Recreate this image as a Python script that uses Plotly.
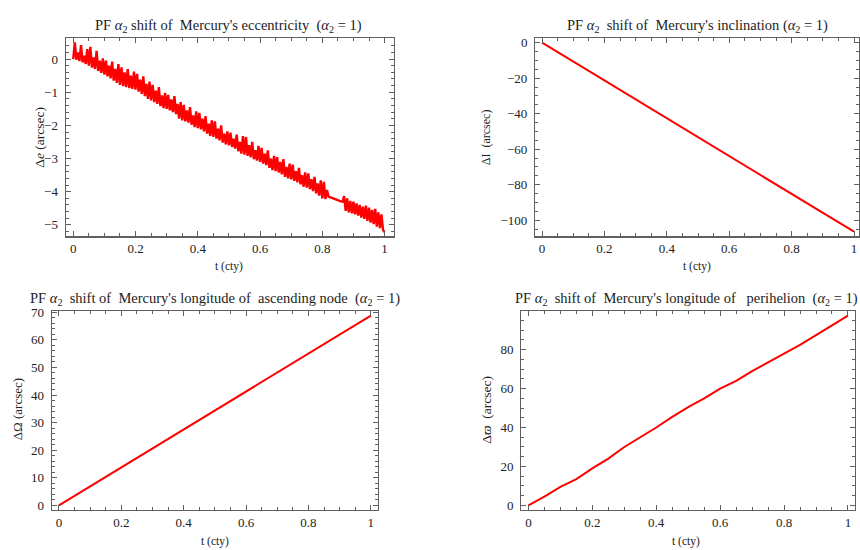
import plotly.graph_objects as go

# ---------------- data ----------------
t_ecc = [round(i * 0.005, 3) for i in range(201)]
d_ecc = [
    0.00, 0.50, -0.02, 0.20, -0.06, 0.42, -0.10, 0.10, -0.15, 0.30,
    -0.20, 0.37, -0.26, 0.05, -0.30, 0.25, -0.36, -0.05, -0.42, 0.02,
    -0.47, -0.05, -0.52, -0.20, -0.58, -0.08, -0.65, -0.30, -0.72, -0.15,
    -0.78, -0.25, -0.82, -0.40, -0.85, -0.30, -0.88, -0.50, -0.90, -0.38,
    -0.92, -0.45, -0.98, -0.62, -1.05, -0.52, -1.12, -0.75, -1.20, -0.68,
    -1.25, -0.78, -1.30, -0.95, -1.35, -0.85, -1.42, -1.10, -1.48, -1.02,
    -1.50, -1.08, -1.55, -1.22, -1.60, -1.12, -1.66, -1.35, -1.80, -1.30,
    -1.85, -1.38, -1.88, -1.55, -1.92, -1.45, -1.98, -1.70, -2.05, -1.58,
    -2.08, -1.62, -2.12, -1.80, -2.18, -1.72, -2.25, -1.95, -2.32, -1.85,
    -2.35, -1.88, -2.40, -2.10, -2.45, -2.00, -2.52, -2.25, -2.57, -2.18,
    -2.60, -2.22, -2.65, -2.40, -2.70, -2.28, -2.78, -2.50, -2.85, -2.32,
    -2.88, -2.35, -2.92, -2.60, -2.96, -2.50, -3.02, -2.75, -3.06, -2.62,
    -3.10, -2.68, -3.15, -2.85, -3.20, -2.75, -3.28, -3.00, -3.35, -2.92,
    -3.38, -2.96, -3.42, -3.10, -3.48, -3.02, -3.55, -3.25, -3.60, -3.15,
    -3.63, -3.18, -3.67, -3.38, -3.72, -3.28, -3.78, -3.50, -3.85, -3.42,
    -3.88, -3.45, -3.92, -3.62, -3.98, -3.55, -4.05, -3.75, -4.12, -3.66,
    -4.20, -3.70, -4.22, -3.95, -4.15, -4.17, -4.19, -4.21, -4.23, -4.25,
    -4.26, -4.27, -4.29, -4.30, -4.13, -4.58, -4.20, -4.62, -4.28, -4.65,
    -4.30, -4.68, -4.35, -4.72, -4.40, -4.78, -4.45, -4.82, -4.42, -4.88,
    -4.48, -4.93, -4.55, -4.98, -4.52, -5.05, -4.62, -5.10, -4.68, -5.15,
    -5.22,
]

t_inc = [0.0, 0.5, 1.0]
d_inc = [0.0, -53.2, -106.5]

t_node = [0.0, 0.5, 1.0]
d_node = [0.0, 34.4, 68.8]

t_peri = [0.0, 0.05, 0.10, 0.15, 0.20, 0.25, 0.30, 0.35, 0.40, 0.45, 0.50,
          0.55, 0.60, 0.65, 0.70, 0.75, 0.80, 0.85, 0.90, 0.95, 1.00]
d_peri = [0.0, 4.5, 9.5, 13.5, 19.0, 24.0, 30.0, 35.0, 40.0, 45.5, 50.5,
          55.0, 60.0, 64.0, 69.0, 73.5, 78.0, 82.5, 87.5, 92.5, 97.5]

x_ticks = [0, 0.2, 0.4, 0.6, 0.8, 1]
x_ticktext = ["0", "0.2", "0.4", "0.6", "0.8", "1"]
ecc_ticks = [-5, -4, -3, -2, -1, 0]
inc_ticks = [-100, -80, -60, -40, -20, 0]
node_ticks = [0, 10, 20, 30, 40, 50, 60, 70]
peri_ticks = [0, 20, 40, 60, 80]

titles = [
    "PF <i>α</i><sub>2</sub> shift of  Mercury's eccentricity  (<i>α</i><sub>2</sub> = 1)",
    "PF <i>α</i><sub>2</sub>  shift of  Mercury's inclination (<i>α</i><sub>2</sub> = 1)",
    "PF <i>α</i><sub>2</sub>  shift of  Mercury's longitude of  ascending node  (<i>α</i><sub>2</sub> = 1)",
    "PF <i>α</i><sub>2</sub>  shift of  Mercury's longitude of   perihelion  (<i>α</i><sub>2</sub> = 1)",
]
ylabels = ["Δ<i>e</i> (arcsec)", "ΔI  (arcsec)", "ΔΩ (arcsec)", "Δ<i>ϖ</i>  (arcsec)"]
xlabel = "t (cty)"

# ---------------- layout helpers ----------------
W, H = 860, 550
FONT = "Liberation Serif, Times New Roman, serif"
TXT = "#222222"
FRAME = "#606060"
RED = "#ff0000"


def px(x):
    return x / W


def py(y):
    return 1 - y / H


panels = [
    dict(xd=(66, 394), yd=(33, 234), xr=(-0.0235, 1.0288), yr=(-5.34, 0.62),
         yt=ecc_ticks, ym=0.2, t=t_ecc, d=d_ecc, lw=2.4),
    dict(xd=(536, 860), yd=(33, 234), xr=(-0.0215, 1.016), yr=(-109, 2.4),
         yt=inc_ticks, ym=5, t=t_inc, d=d_inc, lw=2),
    dict(xd=(52, 378), yd=(310, 512), xr=(-0.0225, 1.0215), yr=(-1.57, 70.5),
         yt=node_ticks, ym=2, t=t_node, d=d_node, lw=2),
    dict(xd=(522, 856), yd=(310, 512), xr=(-0.022, 1.022), yr=(-2.2, 99.9),
         yt=peri_ticks, ym=5, t=t_peri, d=d_peri, lw=2),
]

fig = go.Figure()
layout = dict(
    width=W, height=H,
    margin=dict(l=0, r=0, t=0, b=0),
    paper_bgcolor="white", plot_bgcolor="white",
    showlegend=False,
    font=dict(family=FONT, size=13, color=TXT),
)

axis_common = dict(
    showgrid=False, zeroline=False, showline=True, linecolor=FRAME, linewidth=1.4,
    mirror="ticks", ticks="inside", ticklen=5, tickwidth=1, tickcolor=FRAME,
    tickfont=dict(family=FONT, size=13, color=TXT),
)

annotations = []
title_pos = [(229, 20), (698, 20), (215, 298), (687, 298)]
xlab_pos = [(229, 265), (698, 265), (215, 544), (687, 544)]
ylab_pos = [(40, 133), (486, 133), (17, 410), (487, 410)]
ylab_size = [13.5, 12, 13, 13.5]

for i, p in enumerate(panels):
    n = "" if i == 0 else str(i + 1)
    xa = dict(axis_common)
    xa.update(domain=[px(p["xd"][0]), px(p["xd"][1])], range=list(p["xr"]),
              tickvals=x_ticks, ticktext=x_ticktext, anchor="y" + n,
              ticklabelstandoff=0,
              minor=dict(dtick=0.05, tick0=0, ticks="inside", ticklen=3, tickcolor=FRAME))
    ya = dict(axis_common)
    ya.update(domain=[py(p["yd"][1]), py(p["yd"][0])], range=list(p["yr"]),
              tickvals=p["yt"], ticktext=[str(v).replace("-", "−") for v in p["yt"]],
              anchor="x" + n, ticklabelstandoff=4,
              minor=dict(dtick=p["ym"], tick0=0, ticks="inside", ticklen=3, tickcolor=FRAME))
    layout["xaxis" + n] = xa
    layout["yaxis" + n] = ya
    fig.add_trace(go.Scatter(x=p["t"], y=p["d"], mode="lines",
                             line=dict(color=RED, width=p["lw"]),
                             xaxis="x" + n, yaxis="y" + n, hoverinfo="skip"))
    annotations.append(dict(text=titles[i], x=px(title_pos[i][0]), y=py(title_pos[i][1]),
                            xref="paper", yref="paper", showarrow=False,
                            xanchor="center", yanchor="middle",
                            font=dict(family=FONT, size=14.5, color=TXT)))
    annotations.append(dict(text=xlabel, x=px(xlab_pos[i][0]), y=py(xlab_pos[i][1]),
                            xref="paper", yref="paper", showarrow=False,
                            xanchor="center", yanchor="middle",
                            font=dict(family=FONT, size=11.5, color=TXT)))
    annotations.append(dict(text=ylabels[i], x=px(ylab_pos[i][0]), y=py(ylab_pos[i][1]),
                            xref="paper", yref="paper", showarrow=False, textangle=-90,
                            xanchor="center", yanchor="middle",
                            font=dict(family=FONT, size=ylab_size[i], color=TXT)))

layout["annotations"] = annotations
fig.update_layout(**layout)
fig.write_html("out.html",
               config={"displayModeBar": False, "staticPlot": True},
               post_script="document.body.style.margin='0px';document.body.style.overflow='hidden';")
